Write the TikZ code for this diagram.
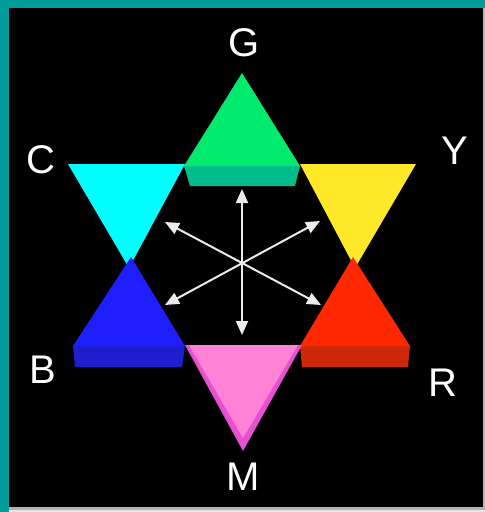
\documentclass[tikz,border=0pt]{standalone}
\usepackage{fontspec}
\setmainfont{Liberation Sans}
\usetikzlibrary{arrows.meta}
\definecolor{frameteal}{RGB}{0,155,155}
\definecolor{gbright}{RGB}{0,235,110}
\definecolor{gband}{RGB}{0,190,140}
\definecolor{cyanc}{RGB}{0,255,255}
\definecolor{yellowc}{RGB}{255,232,40}
\definecolor{bluec}{RGB}{30,30,255}
\definecolor{blueband}{RGB}{30,30,205}
\definecolor{redc}{RGB}{255,40,0}
\definecolor{redband}{RGB}{205,40,10}
\definecolor{pinkc}{RGB}{255,130,215}
\definecolor{pinkrim}{RGB}{232,80,212}
\definecolor{arrowgray}{RGB}{235,235,235}
\begin{document}
\begin{tikzpicture}[x=1pt,y=-1pt,
  lbl/.style={text=white,inner sep=0pt,font=\fontsize{40}{40}\selectfont},
  dblarrow/.style={draw=arrowgray,line width=2pt,{Triangle[length=14pt,width=12pt]}-{Triangle[length=14pt,width=12pt]}}]
\useasboundingbox (0,0) rectangle (485,512);
% frame and background
\fill[frameteal] (0,0) rectangle (485,512);
\fill[black] (9,8) rectangle (485,507);
\fill[gray!55] (483,8) rectangle (485,507);
\fill[gray!60] (9,507) rectangle (485,510);
\fill[gray!20] (9,510) rectangle (485,512);
% downward triangles C and Y
\fill[cyanc] (68,164) -- (185,164) -- (129,268) -- cycle;
\fill[yellowc] (300,164) -- (416,164) -- (355,268) -- cycle;
% upward triangles B and R
\fill[blueband] (73,346) -- (185,346) -- (182,367) -- (75,367) -- cycle;
\fill[bluec] (131,257) -- (185,346) -- (73,346) -- cycle;
\fill[redband] (300,346) -- (410,346) -- (408,367) -- (302,367) -- cycle;
\fill[redc] (353,257) -- (410,346) -- (300,346) -- cycle;
% G
\fill[gband] (184,166) -- (300,166) -- (295,186) -- (190,186) -- cycle;
\fill[gbright] (242,73) -- (300,166) -- (184,166) -- cycle;
% M
\fill[pinkrim] (185,345) -- (302,345) -- (243,451) -- cycle;
\fill[pinkc] (189,345) -- (298,345) -- (243,438) -- cycle;
% arrows
\coordinate (ctop) at (242,189);
\coordinate (cbot) at (242,335);
\coordinate (cul) at (165,222);
\coordinate (cdr) at (321,305);
\coordinate (cur) at (320,221);
\coordinate (cdl) at (165,305);
\draw[dblarrow] (ctop) -- (cbot);
\draw[dblarrow] (cul) -- (cdr);
\draw[dblarrow] (cur) -- (cdl);
% labels
\node[lbl] (G) at (244,43) {G};
\node[lbl] (C) at (41,160) {C};
\node[lbl] (Y) at (455,151) {Y};
\node[lbl] (B) at (43,370) {B};
\node[lbl] (R) at (443,383) {R};
\node[lbl] (M) at (243,477) {M};
\end{tikzpicture}
\end{document}
